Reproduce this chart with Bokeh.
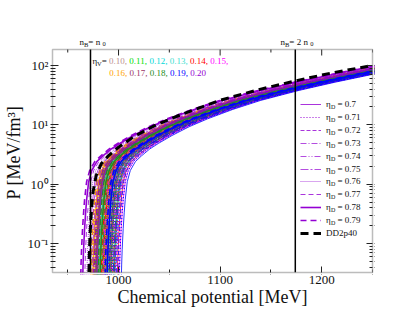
import numpy as np
from bokeh.plotting import figure
from bokeh.models import (Label, FixedTicker, LogAxis,
                          Legend, LegendItem, Range1d, BoxAnnotation)
from bokeh.embed import file_html
from bokeh.resources import INLINE

# ---------------- data ----------------
ETA_V = ["0.10", "0.11", "0.12", "0.13", "0.14", "0.15",
         "0.16", "0.17", "0.18", "0.19", "0.20"]
ETA_V_COLORS = ["#bc8f8f", "#00dd00", "#00d8d8", "#40e0d0", "#ff0000", "#ff00ff",
                "#ffa500", "#993366", "#228b22", "#0000ff", "#9400d3"]
ETA_D = ["0.7", "0.71", "0.72", "0.73", "0.74", "0.75", "0.76", "0.77", "0.78", "0.79"]
ETA_D_DASH = ["solid", "1 2", "4 2", "6 2 1 2", "6 2 1 2 1 2", "8 2 2 2",
              "1 1", "5 3", "solid", "6 4"]
ETA_D_WIDTH = [0.8, 1, 0.8, 0.7, 0.7, 0.7, 0.7, 0.8, 1.6, 1.6]

# threshold chemical potential of the leftmost curve and per-set offsets [MeV]
MU_LEFT = 962.6
ETA_V_SHIFT = [12, 14, 16, 18, 20, 22, 10, 13, 17, 24, 0]
ETA_D_SHIFT = [16, 14, 12.5, 11, 9.5, 8, 6, 4, 2, 0]

# shape of a curve above its threshold: (mu - mu0) [MeV], P [MeV/fm^3]
BASE_DMU = [0, 0.5, 1, 2, 3, 4, 6, 9, 14, 20, 28, 37, 50, 67, 85, 110, 137, 175, 211, 250, 290]
BASE_P = [0.02, 0.045, 0.08, 0.18, 0.33, 0.55, 1.1, 1.7, 2.4, 3.0, 3.9, 4.9, 6.6, 9.3,
          12.6, 18.2, 25.7, 38, 52.5, 72.4, 100]

DD2_MU = [970.6, 971.2, 972, 973.5, 975, 978, 983, 990, 1000, 1015, 1035, 1060,
          1100, 1140, 1174, 1210, 1250]
DD2_P = [0.02, 0.06, 0.15, 0.4, 0.75, 1.4, 2.2, 3.0, 4.2, 6.3, 9.6, 14.5, 26, 40, 55, 75, 100]

DENSITY_MU = [972.4, 1174.0]          # n_B = n0, n_B = 2 n0

X_MAJOR = [1000, 1100, 1200]
X_MINOR = [950, 1050, 1150, 1250]
Y_MAJOR = [0.1, 1, 10, 100]
Y_MINOR = [m * d for d in (0.01, 0.1, 1, 10) for m in range(2, 10) if m * d > 0.032]
Y_TICK_LABELS = {100: "10\u00b2", 10: "10\u00b9", 1: "10\u2070", 0.1: "10\u207b\u00b9"}

# ---------------- layout ----------------
X0, X1 = 935.0, 1250.0          # visible box range
LY0, LY1 = -1.489, 2.2696
BW, BH = 320, 223               # box size in px
BL, BT = 49, 49                 # box left/top in page px
FONT = "Liberation Serif"
K = "#111111"
PXX = BW / (X1 - X0)
PXY = BH / (LY1 - LY0)


def dx(px):
    return X0 + (px - BL) / PXX


def dy(py):
    return 10 ** (LY1 - (py - BT) / PXY)


# frame: 2px pad left/right/bottom, extended up to page y=30 for the header texts
F_L, F_R, F_T, F_B = 47, 371, 30, 274

p = figure(frame_width=F_R - F_L, frame_height=F_B - F_T,
           x_range=Range1d(dx(F_L), dx(F_R)), y_range=Range1d(dy(F_B), dy(F_T)),
           y_axis_type="log", output_backend="svg", toolbar_location=None,
           min_border_left=F_L, min_border_top=F_T, min_border_right=18,
           min_border_bottom=42, x_axis_label="Chemical potential [MeV]",
           y_axis_label="P [MeV/fm\u00b3]")
p.xgrid.grid_line_color = None
p.ygrid.grid_line_color = None
p.outline_line_color = None
p.background_fill_color = "white"
p.border_fill_color = "white"

xt = FixedTicker(ticks=X_MAJOR, minor_ticks=X_MINOR)
yt = FixedTicker(ticks=Y_MAJOR, minor_ticks=Y_MINOR)


def style_axis(ax):
    ax.axis_line_color = None
    ax.major_tick_in = 8
    ax.major_tick_out = 0
    ax.minor_tick_in = 5
    ax.minor_tick_out = 0
    ax.major_tick_line_color = "#222222"
    ax.minor_tick_line_color = "#222222"
    ax.major_label_text_font = FONT
    ax.major_label_text_font_size = "13px"
    ax.major_label_text_color = K
    ax.axis_label_text_font = FONT
    ax.axis_label_text_font_size = "18px"
    ax.axis_label_text_font_style = "normal"
    ax.axis_label_text_color = K


p.xaxis.ticker = xt
p.yaxis.ticker = yt
p.yaxis.major_label_overrides = Y_TICK_LABELS
for ax in p.xaxis + p.yaxis:
    style_axis(ax)
p.xaxis.major_label_standoff = 1
p.xaxis.axis_label_standoff = 0
p.yaxis.major_label_standoff = 2
p.yaxis.axis_label_standoff = 1

right = LogAxis(ticker=yt, major_label_overrides={0.1: " ", 1: " ", 10: " ", 100: " "})
style_axis(right)
right.major_label_text_font_size = "6px"
p.add_layout(right, "right")

# ---------------- curves ----------------
legend_renderers = {}
base_dmu = np.array(BASE_DMU)
base_p = np.array(BASE_P)
for iv, (ev, col) in enumerate(zip(ETA_V, ETA_V_COLORS)):
    for idd, ed in enumerate(ETA_D):
        mu0 = MU_LEFT + ETA_V_SHIFT[iv] + ETA_D_SHIFT[idd]
        r = p.line(mu0 + base_dmu, base_p, line_color=col,
                   line_dash=ETA_D_DASH[idd], line_width=ETA_D_WIDTH[idd])
        if ev == "0.20":
            legend_renderers[ed] = r

dd2 = p.line(DD2_MU, DD2_P, line_color="black", line_width=3, line_dash="8 5")

# vertical density markers, spanning the box
p.segment(x0=DENSITY_MU, y0=[10 ** LY0] * 2, x1=DENSITY_MU, y1=[10 ** LY1] * 2,
          line_color="black", line_width=1.5)

# hide the pad strips, then draw the box and the top ticks
p.add_layout(BoxAnnotation(left=X1, fill_color="white", fill_alpha=1, line_alpha=0,
                           level="overlay"))
p.add_layout(BoxAnnotation(top=10 ** LY0, fill_color="white", fill_alpha=1, line_alpha=0,
                           level="overlay"))
p.add_layout(BoxAnnotation(left=X0, right=X1, bottom=10 ** LY0, top=10 ** LY1,
                           fill_alpha=0, line_color="#222222", line_width=1.5,
                           level="overlay"))
p.segment(x0=X_MAJOR, y0=[10 ** LY1] * len(X_MAJOR), x1=X_MAJOR,
          y1=[dy(BT + 6)] * len(X_MAJOR), line_color="#222222", line_width=1)
p.segment(x0=X_MINOR, y0=[10 ** LY1] * len(X_MINOR), x1=X_MINOR,
          y1=[dy(BT + 3)] * len(X_MINOR), line_color="#222222", line_width=1)

# ---------------- legend (one small legend per row, exact placement) ----------------
LEG_FIRST = 104.0
LEG_STEP = 12.9
rows = [("\u03b7   = " + ed, legend_renderers[ed]) for ed in ETA_D] + [("DD2p40", dd2)]
for i, (lab, rend) in enumerate(rows):
    yc = LEG_FIRST + LEG_STEP * i
    lg = Legend(items=[LegendItem(label=lab, renderers=[rend])],
                location=(297 - F_L, F_B - (yc + 6)))
    lg.border_line_color = None
    lg.background_fill_alpha = 0
    lg.label_text_font = FONT
    lg.label_text_font_size = "9px"
    lg.label_text_color = K
    lg.glyph_width = 21
    lg.glyph_height = 12
    lg.label_height = 12
    lg.label_standoff = 5
    lg.spacing = 0
    lg.padding = 0
    lg.margin = 0
    p.add_layout(lg, "center")
    if i < len(ETA_D):
        p.add_layout(Label(x=dx(323 + 4.5), y=dy(yc + 2.5), text="D", text_color=K,
                           text_font=FONT, text_font_size="6px",
                           text_baseline="middle", text_align="left"))

# ---------------- texts ----------------
WIDTHS = {"n": 0.5, "B": 0.667, "D": 0.722, "V": 0.722, " ": 0.25, "=": 0.564,
          ".": 0.25, ",": 0.25, "\u03b7": 0.5}


def text_width(s, size):
    return sum(WIDTHS.get(c, 0.5) for c in s) * size


def put(parts, x_px, y_px, size=9, sub_size=6.5):
    cur = x_px
    for txt, col, sub in parts:
        fs = sub_size if sub else size
        yy = y_px + (2.5 if sub else 0)
        p.add_layout(Label(x=dx(cur), y=dy(yy), text=txt, text_color=col,
                           text_font=FONT, text_font_size=f"{fs}px",
                           text_baseline="middle", text_align="left"))
        cur += text_width(txt, fs)


put([("n", K, False), ("B", K, True), (" = n", K, False), ("0", K, True)], 76, 41)
put([("n", K, False), ("B", K, True), (" = 2 n", K, False), ("0", K, True)], 277, 41)

line1 = [("\u03b7", K, False), ("V", K, True), ("= ", K, False)]
for i in range(6):
    txt = ETA_V[i] + ("," if i == 5 else ", ")
    line1.append((txt, ETA_V_COLORS[i], False))
put(line1, 89, 60)
line2 = []
for i in range(6, 11):
    txt = ETA_V[i] + ("" if i == 10 else ", ")
    line2.append((txt, ETA_V_COLORS[i], False))
put(line2, 105.7, 72)

open("out.html", "w").write(file_html(p, INLINE))
